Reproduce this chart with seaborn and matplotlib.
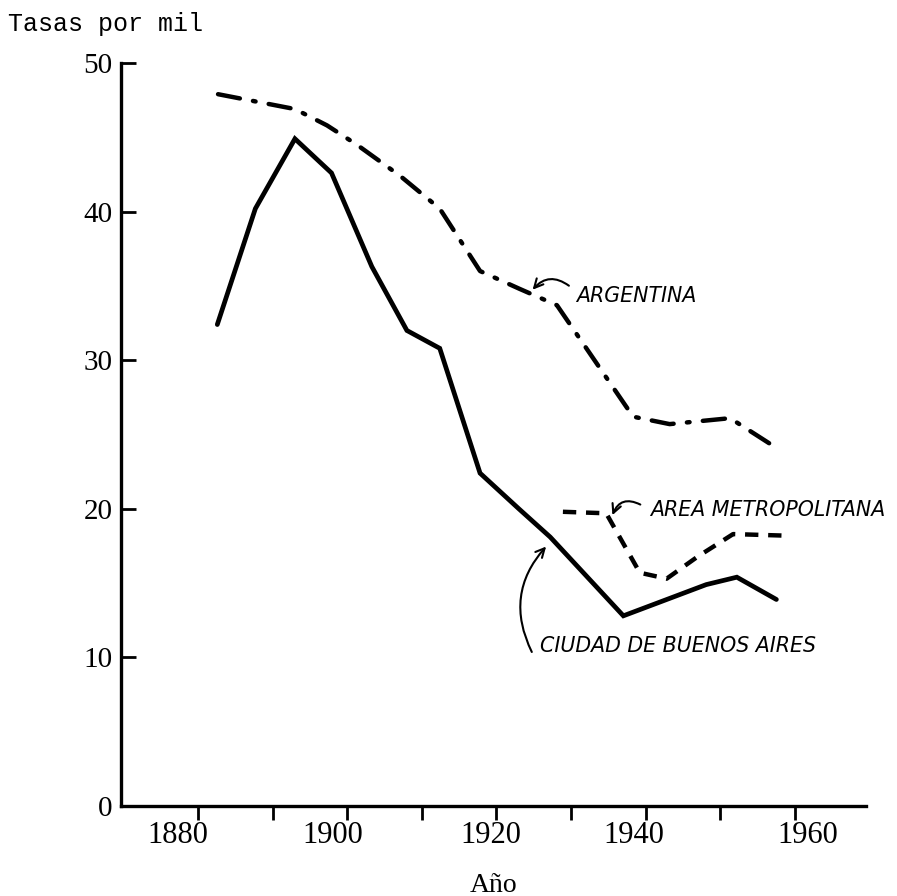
import numpy as np
import pandas as pd
import matplotlib.pyplot as plt
import matplotlib.transforms as mtransforms
import seaborn as sns

# Tasas por mil
anio_ciudad = [1882.6, 1887.7, 1893.0, 1897.9, 1903.3, 1908.0, 1912.4, 1917.8, 1923.0, 1927.2, 1937.0, 1948.1, 1952.2, 1957.5]
tasa_ciudad = [32.4, 40.2, 44.9, 42.6, 36.3, 32.0, 30.8, 22.4, 20.0, 18.1, 12.8, 14.9, 15.4, 13.9]

anio_argentina = [1882.7, 1893.0, 1897.3, 1901.3, 1907.1, 1912.4, 1917.8, 1923.1, 1928.1, 1938.3, 1943.2, 1951.3, 1957.5]
tasa_argentina = [47.9, 46.9, 45.8, 44.5, 42.4, 40.2, 36.0, 34.8, 33.7, 26.2, 25.7, 26.1, 24.1]

anio_metro = [1928.9, 1934.7, 1939.2, 1942.8, 1947.0, 1951.7, 1958.4]
tasa_metro = [19.8, 19.7, 15.7, 15.3, 16.8, 18.3, 18.2]

x_ticks = [1880, 1900, 1920, 1940, 1960]
x_minor = [1890, 1910, 1930, 1950]
y_ticks = [0, 10, 20, 30, 40, 50]

sns.set_style("white")
plt.rcParams["text.color"] = "black"
plt.rcParams["xtick.color"] = "black"
plt.rcParams["ytick.color"] = "black"
plt.rcParams["axes.labelcolor"] = "black"

fig = plt.figure(figsize=(8.97, 8.96), dpi=100)
ax = fig.add_axes([0.1349, 0.1004, 0.8305, 0.8293])

sns.lineplot(x=anio_ciudad, y=tasa_ciudad, ax=ax, color="black", lw=3.4,
             solid_joinstyle="miter")
sns.lineplot(x=anio_argentina, y=tasa_argentina, ax=ax, color="black", lw=3.2,
             linestyle=(0, (5, 3, 0.6, 3)), dash_capstyle="round")
sns.lineplot(x=anio_metro, y=tasa_metro, ax=ax, color="black", lw=3.2,
             linestyle=(0, (3, 2.2)))

ax.set_xlim(1869.7, 1969.5)
ax.set_ylim(0, 50)

for s in ["top", "right"]:
    ax.spines[s].set_visible(False)
for s in ["left", "bottom"]:
    ax.spines[s].set_linewidth(2.4)
    ax.spines[s].set_color("black")

ax.set_xticks(x_ticks)
ax.set_xticks(x_minor, minor=True)
ax.set_xticklabels([str(t) for t in x_ticks], family="Liberation Serif", fontsize=22)
ax.tick_params(axis="x", which="both", bottom=True, direction="out",
               length=10, width=2, pad=1, color="black", labelcolor="black")

# hand-lettered labels sit a bit off their ticks
shift_px = [-20, -14, -6, -12, 13]
for lbl, dx in zip(ax.get_xticklabels(), shift_px):
    lbl.set_transform(lbl.get_transform() +
                      mtransforms.ScaledTranslation(dx / 100, 0, fig.dpi_scale_trans))

ax.set_yticks(y_ticks)
ax.set_yticklabels([str(t) for t in y_ticks], family="Liberation Serif", fontsize=21)
ax.tick_params(axis="y", which="major", left=True, direction="in",
               length=11, width=2, pad=6, color="black", labelcolor="black")
ax.set_yticks([50], minor=True)
ax.tick_params(axis="y", which="minor", left=True, direction="in",
               length=18, width=2, color="black")

ax.set_xlabel("Año", family="Liberation Serif", fontsize=20, labelpad=16, color="black")
fig.text(0.009, 0.965, "Tasas por mil", family="Liberation Mono", fontsize=18,
         ha="left", va="baseline", color="black")

lab = dict(family="DejaVu Sans", style="italic", fontsize=14.8, ha="left",
           va="center", color="black")
ax.text(1930.6, 34.3, "ARGENTINA", **lab)
ax.text(1940.6, 19.95, "AREA METROPOLITANA", **lab)
ax.text(1925.8, 10.8, "CIUDAD DE BUENOS AIRES", **lab)

arr = dict(arrowstyle="->", color="black", lw=1.5, mutation_scale=16)
ax.annotate("", xy=(1924.6, 34.6), xytext=(1930.0, 34.9),
            arrowprops=dict(connectionstyle="arc3,rad=0.5", **arr))
ax.annotate("", xy=(1935.4, 19.4), xytext=(1939.6, 20.2),
            arrowprops=dict(connectionstyle="arc3,rad=0.6", **arr))
ax.annotate("", xy=(1926.9, 17.6), xytext=(1924.9, 10.2),
            arrowprops=dict(connectionstyle="arc3,rad=-0.35", **arr))

fig.savefig("out.png", dpi=100, facecolor="white")
